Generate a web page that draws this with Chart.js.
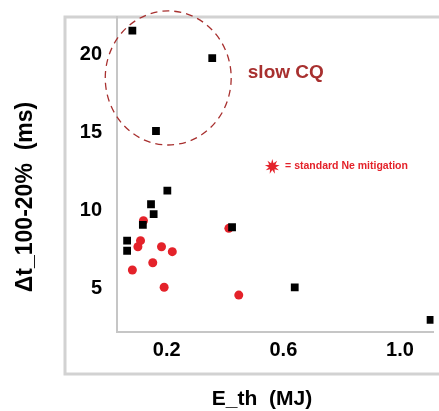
<!DOCTYPE html>
<html>
<head>
<meta charset="utf-8">
<script src="https://cdn.jsdelivr.net/npm/chart.js@4/dist/chart.umd.min.js"></script>
<style>
  html, body { margin: 0; padding: 0; background: #fff; }
  #wrap { width: 439px; height: 411px; }
</style>
</head>
<body>
<div id="wrap"><canvas id="cqChart" width="439" height="411"></canvas></div>
<script>
// Thermal energy (MJ) vs current quench time, slow-CQ shots
const blackEth = [0.082, 0.356, 0.163, 0.202, 0.146, 0.155, 0.118, 0.064, 0.064, 0.424, 0.639, 1.105];
const blackDt = [21.56, 19.79, 15.11, 11.27, 10.40, 9.77, 9.07, 8.06, 7.41, 8.92, 5.06, 2.96];

// Shots with standard Ne mitigation
const neEth = [0.120, 0.110, 0.101, 0.182, 0.219, 0.152, 0.082, 0.191, 0.413, 0.447];
const neDt = [9.34, 8.06, 7.67, 7.67, 7.35, 6.64, 6.17, 5.06, 8.85, 4.56];

const xTicks = [0.2, 0.6, 1.0];
const yTicks = [5, 10, 15, 20];

const FONT = 'Liberation Sans, Arial, sans-serif';
const RED = '#e4222a';
const DARKRED = '#a8302f';

function toPoints(xs, ys) {
  return xs.map((x, i) => ({ x: x, y: ys[i] }));
}

// Frame, dashed "slow CQ" region, titles and the Ne legend
const decorations = {
  id: 'decorations',
  beforeDraw(chart) {
    const ctx = chart.ctx;
    ctx.save();
    ctx.strokeStyle = '#d2d2d2';
    ctx.lineWidth = 3;
    ctx.strokeRect(65, 17, 400, 357);
    ctx.restore();
  },
  afterDraw(chart) {
    const ctx = chart.ctx;
    const xs = chart.scales.x;
    const ys = chart.scales.y;

    ctx.save();
    // dashed ellipse round the slow CQ shots
    const cx = xs.getPixelForValue(0.205);
    const cy = ys.getPixelForValue(18.52);
    const rx = xs.getPixelForValue(0.205 + 0.216) - cx;
    const ry = cy - ys.getPixelForValue(18.52 + 4.31);
    ctx.beginPath();
    ctx.ellipse(cx, cy, rx, ry, 0, 0, Math.PI * 2);
    ctx.setLineDash([7, 5]);
    ctx.strokeStyle = DARKRED;
    ctx.lineWidth = 1.3;
    ctx.stroke();
    ctx.setLineDash([]);

    ctx.fillStyle = DARKRED;
    ctx.font = 'bold 19px ' + FONT;
    ctx.textAlign = 'left';
    ctx.textBaseline = 'middle';
    ctx.fillText('slow CQ', xs.getPixelForValue(0.478), ys.getPixelForValue(18.84));

    // legend star
    const sx = xs.getPixelForValue(0.562);
    const sy = ys.getPixelForValue(12.82);
    ctx.beginPath();
    const spikes = 9;
    for (let i = 0; i < spikes * 2; i++) {
      const r = i % 2 === 0 ? 7.5 : 3.5;
      const a = -Math.PI / 2 + i * Math.PI / spikes;
      const px = sx + r * Math.cos(a);
      const py = sy + r * Math.sin(a);
      if (i === 0) ctx.moveTo(px, py); else ctx.lineTo(px, py);
    }
    ctx.closePath();
    ctx.fillStyle = RED;
    ctx.fill();

    ctx.font = 'bold 10.5px ' + FONT;
    ctx.fillText('= standard Ne mitigation', xs.getPixelForValue(0.606), sy);

    // axis titles
    ctx.fillStyle = '#000';
    ctx.font = 'bold 21px ' + FONT;
    ctx.textAlign = 'center';
    ctx.fillText('E_th  (MJ)', 262, 399);

    ctx.translate(26, 197);
    ctx.rotate(-Math.PI / 2);
    ctx.font = 'bold 23px ' + FONT;
    ctx.fillText('\u0394t_100-20%  (ms)', 0, 0);
    ctx.restore();
  }
};

new Chart(document.getElementById('cqChart').getContext('2d'), {
  type: 'scatter',
  data: {
    datasets: [
      {
        label: 'slow CQ',
        data: toPoints(blackEth, blackDt),
        pointStyle: 'rect',
        pointRadius: 5.5,
        backgroundColor: '#000',
        borderColor: '#000',
        borderWidth: 0
      },
      {
        label: 'standard Ne mitigation',
        data: toPoints(neEth, neDt),
        pointStyle: 'circle',
        pointRadius: 4.5,
        backgroundColor: RED,
        borderColor: RED,
        borderWidth: 0
      }
    ]
  },
  options: {
    responsive: false,
    animation: false,
    layout: { padding: { top: 17, right: 0, bottom: 0, left: 0 } },
    plugins: {
      legend: { display: false },
      tooltip: { enabled: false }
    },
    scales: {
      x: {
        type: 'linear',
        min: 0.0293,
        max: 1.115,
        afterBuildTicks: s => { s.ticks = xTicks.map(v => ({ value: v })); },
        afterFit: s => { s.height = 79; s.paddingLeft = 0; s.paddingRight = 0; },
        grid: { display: false, drawTicks: false },
        border: { display: true, color: '#c6c6c6', width: 2 },
        ticks: {
          padding: 6,
          color: '#000',
          font: { family: FONT, size: 20, weight: 'bold' },
          callback: v => v.toFixed(1)
        }
      },
      y: {
        type: 'linear',
        min: 2.185,
        max: 22.44,
        afterBuildTicks: s => { s.ticks = yTicks.map(v => ({ value: v })); },
        afterFit: s => { s.width = 117; s.paddingTop = 0; s.paddingBottom = 0; },
        grid: { display: false, drawTicks: false },
        border: { display: true, color: '#c6c6c6', width: 2 },
        ticks: {
          padding: 15,
          color: '#000',
          font: { family: FONT, size: 20, weight: 'bold' }
        }
      }
    }
  },
  plugins: [decorations]
});
</script>
</body>
</html>
